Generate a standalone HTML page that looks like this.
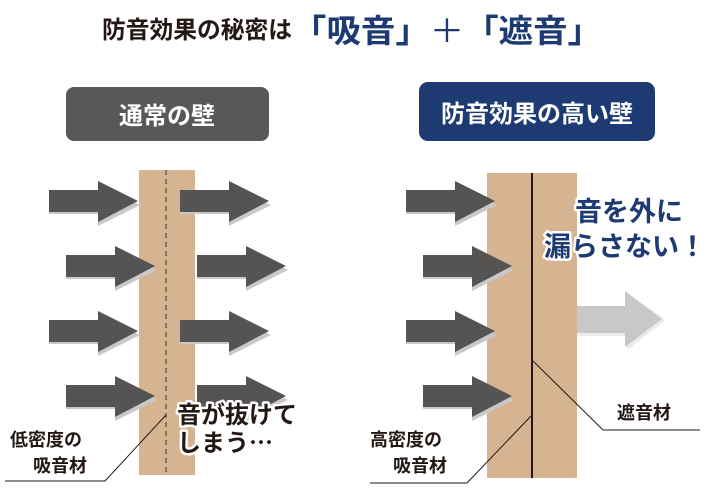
<!DOCTYPE html>
<html><head><meta charset="utf-8"><style>
html,body{margin:0;padding:0;background:#fff}
svg{display:block}
text{font-family:"Liberation Sans","Noto Sans CJK JP",sans-serif;font-weight:bold}
.jp{font-family:"Noto Sans CJK JP",sans-serif}
</style></head><body>
<svg width="720" height="490" viewBox="0 0 720 490" xmlns="http://www.w3.org/2000/svg">
<defs>
<g id="ar">
<polygon points="0,2 49,2 49,-17 91,4 49,25 49,13 0,13" fill="#c8c8c8"/>
<polygon points="0,-11 49,-11 49,-20 89,0 49,21 49,11 0,11" fill="#555452"/>
</g>
</defs>
<text x="102" y="38" font-size="24" fill="#231815" class="jp" textLength="190" lengthAdjust="spacingAndGlyphs">防音効果の秘密は</text>
<text x="292" y="42" font-size="32" fill="#1d3a73" class="jp" textLength="310" lengthAdjust="spacingAndGlyphs">「吸音」<tspan font-weight="normal">＋</tspan>「遮音」</text>

<rect x="66" y="87" width="203" height="54" rx="8" fill="#595857"/>
<text x="167" y="124" font-size="24" fill="#fff" text-anchor="middle">通常の壁</text>
<rect x="419" y="82" width="236" height="59" rx="9" fill="#1d3a73"/>
<text x="537" y="122" font-size="24" fill="#fff" text-anchor="middle">防音効果の高い壁</text>

<rect x="139" y="170" width="56" height="305" fill="#d6b491"/>
<line x1="166" y1="170" x2="166" y2="475" stroke="#333" stroke-width="1" stroke-dasharray="5,4"/>
<use href="#ar" x="49" y="201"/>
<use href="#ar" x="66" y="266"/>
<use href="#ar" x="49" y="331"/>
<use href="#ar" x="66" y="396"/>
<use href="#ar" x="180" y="201"/>
<use href="#ar" x="197" y="266"/>
<use href="#ar" x="180" y="331"/>
<use href="#ar" x="197" y="396"/>
<polyline points="5,481 105,481 166,415" fill="none" stroke="#231815" stroke-width="1"/>
<text x="10" y="446" font-size="18" fill="#231815" font-weight="normal">低密度の</text>
<text x="33" y="472" font-size="18" fill="#231815" font-weight="normal">吸音材</text>
<g font-size="24" fill="#231815" stroke="#fff" stroke-width="5" paint-order="stroke" stroke-linejoin="round" class="jp">
<text x="177" y="423" class="jp">音が抜けて</text>
<text x="177" y="451" class="jp">しまう…</text>
</g>

<rect x="487" y="173" width="90" height="305" fill="#d6b491"/>
<line x1="532" y1="173" x2="532" y2="478" stroke="#231815" stroke-width="2"/>
<use href="#ar" x="406" y="201"/>
<use href="#ar" x="423" y="266"/>
<use href="#ar" x="406" y="331"/>
<use href="#ar" x="423" y="396"/>
<polygon points="577,310 627,310 627,293 666,320 627,350 627,336 577,336" fill="#ebebeb"/>
<polygon points="577,306 625,306 625,291 662,319 625,347 625,333 577,333" fill="#c8c8c8"/>
<polyline points="532,360 603,430 700,430" fill="none" stroke="#231815" stroke-width="1"/>
<polyline points="370,483 467,483 532,415" fill="none" stroke="#231815" stroke-width="1"/>
<text x="617" y="419" font-size="18" fill="#231815" font-weight="normal">遮音材</text>
<text x="370" y="446" font-size="18" fill="#231815" font-weight="normal">高密度の</text>
<text x="393" y="472" font-size="18" fill="#231815" font-weight="normal">吸音材</text>
<g font-size="27" fill="#1d3a73" stroke="#fff" stroke-width="5" paint-order="stroke" stroke-linejoin="round">
<text x="575" y="221">音を外に</text>
<text x="544" y="256">漏らさない！</text>
</g>
</svg>
</body></html>
